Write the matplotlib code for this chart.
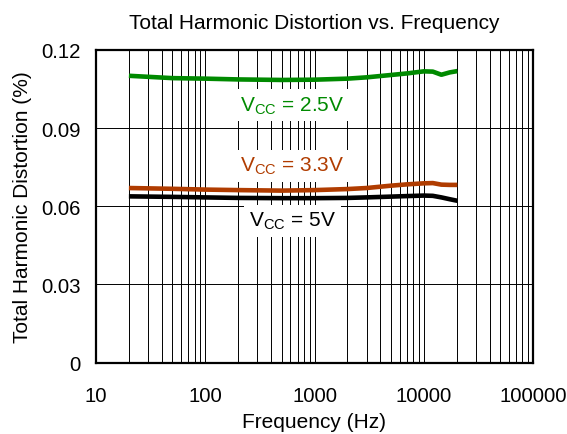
import matplotlib
matplotlib.use("Agg")
import matplotlib.pyplot as plt
from matplotlib.ticker import LogLocator, FixedLocator, NullFormatter, FixedFormatter

plt.rcParams['font.family'] = ['Liberation Sans', 'DejaVu Sans']
plt.rcParams['mathtext.fontset'] = 'custom'
plt.rcParams['mathtext.rm'] = 'Liberation Sans'

freq = [20, 50, 100, 200, 500, 1000, 2000, 3000, 5000, 7000, 10000, 12100, 14500, 17300, 20300]
thd_25 = [0.1101, 0.1092, 0.1090, 0.1087, 0.1085, 0.1086, 0.1090, 0.1095, 0.1104, 0.1110,
          0.1118, 0.1117, 0.1105, 0.1114, 0.1119]
thd_33 = [0.0670, 0.0667, 0.0664, 0.0662, 0.0660, 0.0662, 0.0666, 0.0670, 0.0679, 0.0684,
          0.0688, 0.0689, 0.0683, 0.0682, 0.0682]
thd_5 = [0.0638, 0.0636, 0.0634, 0.0632, 0.0631, 0.0631, 0.0632, 0.0634, 0.0637, 0.0639,
         0.0641, 0.0640, 0.0634, 0.0627, 0.0621]

series = [
    (thd_25, '#008a00', r'$\mathregular{V_{CC}}$ = 2.5V', 0.0967),
    (thd_33, '#b03c00', r'$\mathregular{V_{CC}}$ = 3.3V', 0.0735),
    (thd_5, '#000000', r'$\mathregular{V_{CC}}$ = 5V', 0.0524),
]
label_freq = 630

xticks = [10, 100, 1000, 10000, 100000]
xtick_labels = ['10', '100', '1000', '10000', '100000']
yticks = [0, 0.03, 0.06, 0.09, 0.12]
ytick_labels = ['0', '0.03', '0.06', '0.09', '0.12']

fig = plt.figure(figsize=(5.67, 4.35), dpi=100)
ax = fig.add_axes([96/567, 1-363.5/435, (533-96)/567, (363.5-51)/435])

ax.set_xscale('log')
ax.set_xlim(10, 100000)
ax.set_ylim(0, 0.12)
ax.xaxis.set_major_locator(FixedLocator(xticks))
ax.xaxis.set_major_formatter(FixedFormatter(xtick_labels))
ax.xaxis.set_minor_locator(LogLocator(base=10, subs=range(2, 10), numticks=50))
ax.xaxis.set_minor_formatter(NullFormatter())
ax.yaxis.set_major_locator(FixedLocator(yticks))
ax.yaxis.set_major_formatter(FixedFormatter(ytick_labels))

ax.grid(True, which='both', axis='x', color='black', lw=0.7)
ax.grid(True, which='major', axis='y', color='black', lw=0.7)
ax.set_axisbelow(True)

for s in ax.spines.values():
    s.set_linewidth(1.6)
    s.set_color('black')

ax.tick_params(which='both', length=0)
ax.tick_params(axis='x', labelsize=14.7, pad=17)
ax.tick_params(axis='y', labelsize=14.7, pad=11)

for vals, col, lab, ly in series:
    ax.plot(freq, vals, color=col, lw=3.3, solid_capstyle='butt', zorder=3)
    ax.text(label_freq, ly, lab, color=col, fontsize=15, ha='center', va='baseline',
            bbox=dict(facecolor='white', edgecolor='none', boxstyle='square,pad=0.25'), zorder=4)

ax.set_title('Total Harmonic Distortion vs. Frequency', fontsize=15, pad=16)
ax.set_xlabel('Frequency (Hz)', fontsize=15, labelpad=5)
ax.set_ylabel('Total Harmonic Distortion (%)', fontsize=15, labelpad=7)

fig.savefig('out.png', dpi=100)
